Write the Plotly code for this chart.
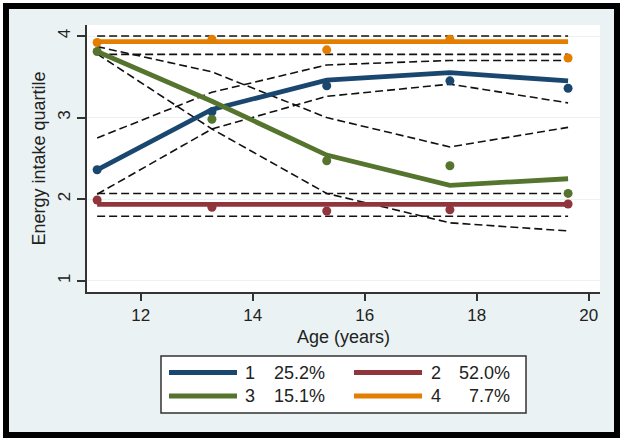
import plotly.graph_objects as go

# ---------------- data ----------------
ages = [11.22, 13.27, 15.32, 17.52, 19.63]

group_names = ["1", "2", "3", "4"]
group_share = ["25.2%", "52.0%", "15.1%", "7.7%"]

fit_1 = [2.36, 3.10, 3.46, 3.55, 3.45]
fit_2 = [1.935, 1.935, 1.935, 1.935, 1.935]
fit_3 = [3.81, 3.20, 2.54, 2.17, 2.25]
fit_4 = [3.93, 3.93, 3.93, 3.93, 3.93]

obs_1 = [2.36, 3.07, 3.39, 3.45, 3.36]
obs_2 = [1.99, 1.90, 1.855, 1.87, 1.94]
obs_3 = [3.81, 2.98, 2.47, 2.41, 2.07]
obs_4 = [3.92, 3.96, 3.83, 3.96, 3.73]

lo_1 = [2.06, 2.86, 3.26, 3.41, 3.18]
hi_1 = [2.75, 3.31, 3.645, 3.70, 3.70]
lo_2 = [1.79, 1.79, 1.79, 1.79, 1.79]
hi_2 = [2.07, 2.07, 2.07, 2.07, 2.07]
lo_3 = [3.78, 2.86, 2.07, 1.71, 1.61]
hi_3 = [3.87, 3.56, 3.00, 2.64, 2.88]
lo_4 = [3.775, 3.775, 3.775, 3.775, 3.775]
hi_4 = [4.0, 4.0, 4.0, 4.0, 4.0]

x_ticks = [12, 14, 16, 18, 20]
y_ticks = [1, 2, 3, 4]

colors = ["#1a476f", "#90353b", "#55752f", "#e37e00"]

fits = [fit_1, fit_2, fit_3, fit_4]
obss = [obs_1, obs_2, obs_3, obs_4]
los = [lo_1, lo_2, lo_3, lo_4]
his = [hi_1, hi_2, hi_3, hi_4]

# ---------------- figure ----------------
W, H = 624, 444
ML, MR, MT, MB = 87, 24, 25, 152
PW, PH = W - ML - MR, H - MT - MB

def px(x):
    return (x - ML) / PW

def py(y):
    return (H - MB - y) / PH

FONT = "Arial, Liberation Sans, sans-serif"
TXT = "#222222"

fig = go.Figure()

# confidence bands (dashed)
for lo, hi in zip(los, his):
    for band in (lo, hi):
        fig.add_trace(go.Scatter(
            x=ages, y=band, mode="lines",
            line=dict(color="#111111", width=1.6, dash="8px,4px"),
            showlegend=False, hoverinfo="skip"))

# fitted trajectories
for i, f in enumerate(fits):
    fig.add_trace(go.Scatter(
        x=ages, y=f, mode="lines",
        line=dict(color=colors[i], width=4.8),
        name=group_names[i], showlegend=False))

# observed means
for i, o in enumerate(obss):
    fig.add_trace(go.Scatter(
        x=ages, y=o, mode="markers",
        marker=dict(color=colors[i], size=9),
        showlegend=False))

shapes = []
annotations = []

# outer frame
white = "#ffffff"
shapes += [
    dict(type="rect", xref="paper", yref="paper", x0=px(0), x1=px(3), y0=py(H), y1=py(0),
         fillcolor=white, line=dict(width=0), layer="above"),
    dict(type="rect", xref="paper", yref="paper", x0=px(620), x1=px(W), y0=py(H), y1=py(0),
         fillcolor=white, line=dict(width=0), layer="above"),
    dict(type="rect", xref="paper", yref="paper", x0=px(0), x1=px(W), y0=py(3), y1=py(0),
         fillcolor=white, line=dict(width=0), layer="above"),
    dict(type="rect", xref="paper", yref="paper", x0=px(0), x1=px(W), y0=py(H), y1=py(438),
         fillcolor=white, line=dict(width=0), layer="above"),
    dict(type="rect", xref="paper", yref="paper", x0=px(6), x1=px(617), y0=py(435), y1=py(6),
         line=dict(color="#000000", width=6), layer="above"),
]

# legend box
shapes.append(dict(type="rect", xref="paper", yref="paper",
                   x0=px(161), x1=px(526), y0=py(413), y1=py(356),
                   fillcolor="#ffffff", line=dict(color="#333333", width=1.5), layer="above"))

rows = [372.5, 396]
cols = [(169, 237, 250, 327), (354, 422, 436, 512)]
order = [(0, 0, 0), (1, 0, 1), (2, 1, 0), (3, 1, 1)]
for gi, r, c in order:
    lx0, lx1, nx, sx = cols[c]
    yy = rows[r]
    shapes.append(dict(type="line", xref="paper", yref="paper",
                       x0=px(lx0), x1=px(lx1), y0=py(yy), y1=py(yy),
                       line=dict(color=colors[gi], width=4.8), layer="above"))
    annotations.append(dict(xref="paper", yref="paper", x=px(nx), y=py(yy),
                            text=group_names[gi], showarrow=False,
                            xanchor="center", yanchor="middle",
                            font=dict(family=FONT, size=18, color=TXT)))
    annotations.append(dict(xref="paper", yref="paper", x=px(sx), y=py(yy),
                            text=group_share[gi], showarrow=False,
                            xanchor="right", yanchor="middle",
                            font=dict(family=FONT, size=18, color=TXT)))

# axis titles
annotations.append(dict(xref="paper", yref="paper", x=px(343), y=py(337),
                        text="Age (years)", showarrow=False,
                        xanchor="center", yanchor="middle",
                        font=dict(family=FONT, size=18, color=TXT)))
annotations.append(dict(xref="paper", yref="paper", x=px(38), y=py(158.5),
                        text="Energy intake quartile", showarrow=False, textangle=-90,
                        xanchor="center", yanchor="middle",
                        font=dict(family=FONT, size=18, color=TXT)))

fig.update_layout(
    width=W, height=H, autosize=False,
    margin=dict(l=ML, r=MR, t=MT, b=MB, pad=0),
    paper_bgcolor="#eaf2f3",
    plot_bgcolor="#ffffff",
    showlegend=False,
    shapes=shapes,
    annotations=annotations,
    font=dict(family=FONT, size=17, color=TXT),
    xaxis=dict(range=[11.039, 20.2], tickvals=x_ticks, ticktext=[str(t) for t in x_ticks],
               showgrid=False, zeroline=False, showline=True, linecolor="#333333", linewidth=1.5,
               ticks="outside", ticklen=7, tickwidth=1.5, tickcolor="#333333",
               tickfont=dict(family=FONT, size=17, color=TXT)),
    yaxis=dict(range=[0.8616, 4.1349], tickvals=y_ticks, ticktext=[str(t) for t in y_ticks],
               showgrid=True, gridcolor="#eaf2f3", gridwidth=1, zeroline=False,
               showline=True, linecolor="#333333", linewidth=1.5,
               ticks="outside", ticklen=8, tickwidth=1.5, tickcolor="#333333", tickangle=-90,
               tickfont=dict(family=FONT, size=17, color=TXT)),
)

fig.write_html("out.html",
               config={"displayModeBar": False},
               post_script="document.body.style.margin='0';document.body.style.padding='0';")
